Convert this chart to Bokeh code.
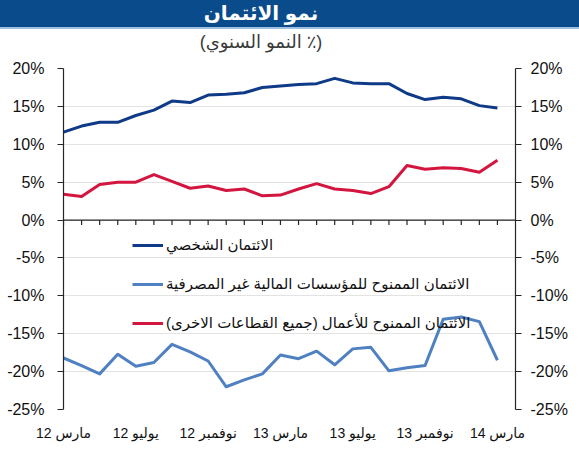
from bokeh.plotting import figure
from bokeh.models import (Range1d, LinearAxis, FixedTicker, PrintfTickFormatter, Legend,
                          LegendItem, Span, Grid, Div)
from bokeh.layouts import column
from bokeh.embed import file_html
from bokeh.resources import INLINE

# ---------------- data ----------------
title_text = "نمو الائتمان"
subtitle_text = "(٪ النمو السنوي)"

months = list(range(25))  # March 2012 ... March 2014, monthly
tick_positions = [0, 4, 8, 12, 16, 20, 24]
tick_labels = ["مارس 12", "يوليو 12", "نوفمبر 12", "مارس 13", "يوليو 13", "نوفمبر 13", "مارس 14"]

personal = [11.6, 12.4, 12.9, 12.9, 13.8, 14.5, 15.7, 15.5, 16.5, 16.6, 16.8, 17.5, 17.7,
            17.9, 18.0, 18.7, 18.1, 18.0, 18.0, 16.7, 15.9, 16.2, 16.0, 15.1, 14.8]
nbfi = [-18.2, -19.2, -20.3, -17.7, -19.3, -18.8, -16.4, -17.4, -18.6, -22.0, -21.1, -20.3, -17.8,
        -18.3, -17.3, -19.1, -17.0, -16.8, -19.9, -19.5, -19.2, -13.1, -12.8, -13.4, -18.5]
business = [3.4, 3.1, 4.7, 5.0, 5.0, 6.0, 5.1, 4.2, 4.5, 3.9, 4.1, 3.2, 3.3,
            4.1, 4.8, 4.1, 3.9, 3.5, 4.4, 7.2, 6.7, 6.9, 6.8, 6.3, 7.9]

series_names = ["الائتمان الشخصي",
                "الائتمان الممنوح للمؤسسات المالية غير المصرفية",
                "الائتمان الممنوح للأعمال (جميع القطاعات الاخرى)\u200f"]

y_ticks = [-25, -20, -15, -10, -5, 0, 5, 10, 15, 20]

# ---------------- style ----------------
FONT = "Liberation Sans, DejaVu Sans"
C_PERSONAL = "#0E3A87"
C_NBFI = "#4F81C2"
C_BUSINESS = "#D3163F"
C_BAND = "#0A4B8C"
C_BAND_LINE = "#A3C0E2"
AXIS_C = "#262626"
W = 579
FL, FR = 63, 64  # frame borders (left / right)

# ---------------- title band + subtitle (HTML header) ----------------
common = f"display:block;width:{W}px;box-sizing:border-box;margin:0;padding-left:0;padding-right:57px;text-align:center;font-family:{FONT};"
header_html = (
    f'<div style="{common}height:29px;background:{C_BAND};border-bottom:2px solid {C_BAND_LINE};'
    f'color:white;font-size:20px;font-weight:bold;line-height:27px;" dir="rtl">{title_text}</div>'
    f'<div style="{common}height:29px;color:#3A3A3A;font-size:18px;'
    f'line-height:24px;padding-top:1px;" dir="rtl">{subtitle_text}</div>'
)
header = Div(text=header_html, width=W, height=58,
             styles={"margin": "0", "padding": "0", "display": "block", "width": f"{W}px"})

# ---------------- main chart ----------------
p = figure(width=W, height=392, x_range=Range1d(0, 25), y_range=Range1d(-25, 20),
           output_backend="svg", toolbar_location=None,
           min_border_left=FL, min_border_right=FR, min_border_top=10, min_border_bottom=41,
           x_axis_type=None, y_axis_type=None, outline_line_color=None)

p.add_layout(Grid(dimension=1, ticker=FixedTicker(ticks=y_ticks),
                  grid_line_color="#E3E3E3", grid_line_width=1))


def y_axis(standoff):
    return LinearAxis(ticker=FixedTicker(ticks=y_ticks, minor_ticks=[]),
                      formatter=PrintfTickFormatter(format="%d%%"),
                      axis_line_color=AXIS_C, axis_line_width=1.2,
                      major_tick_line_color=AXIS_C, major_tick_line_width=1.2,
                      major_tick_out=6, major_tick_in=0,
                      minor_tick_out=0, minor_tick_in=0,
                      major_label_standoff=standoff,
                      major_label_text_font_size="16px",
                      major_label_text_font=FONT,
                      major_label_text_color="#111111")


p.add_layout(y_axis(13), "left")
p.add_layout(y_axis(9), "right")

xb = LinearAxis(ticker=FixedTicker(ticks=tick_positions, minor_ticks=[]),
                major_label_overrides={pos: lab for pos, lab in zip(tick_positions, tick_labels)},
                axis_line_color=None, major_tick_line_color=None,
                major_tick_out=0, major_tick_in=0, minor_tick_out=0, minor_tick_in=0,
                major_label_standoff=15, major_label_text_font_size="14px",
                major_label_text_font=FONT, major_label_text_color="#111111")
p.add_layout(xb, "below")

# zero line with category tick marks
p.add_layout(Span(location=0, dimension="width", line_color=AXIS_C, line_width=1.2))
p.segment(x0=months, y0=[0] * len(months), x1=months, y1=[-0.65] * len(months),
          line_color=AXIS_C, line_width=1.2)

r1 = p.line(months, personal, line_color=C_PERSONAL, line_width=3, line_join="round")
r2 = p.line(months, nbfi, line_color=C_NBFI, line_width=3, line_join="round")
r3 = p.line(months, business, line_color=C_BUSINESS, line_width=3, line_join="round")

legend = Legend(items=[LegendItem(label=series_names[0], renderers=[r1]),
                       LegendItem(label=series_names[1], renderers=[r2]),
                       LegendItem(label=series_names[2], renderers=[r3])],
                location=(69, 76), orientation="vertical",
                border_line_color=None, background_fill_alpha=0,
                padding=0, margin=0, spacing=19,
                glyph_width=31, glyph_height=20, label_height=20, label_standoff=3,
                label_text_font_size="15px", label_text_font=FONT,
                label_text_color="#111111")
p.add_layout(legend, "center")

layout = column(header, p, spacing=0)
open("out.html", "w").write(file_html(layout, INLINE))
